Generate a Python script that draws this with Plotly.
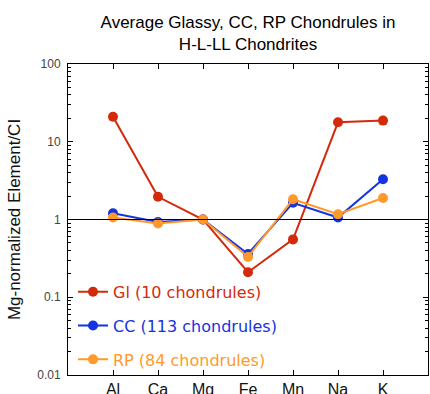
import plotly.graph_objects as go

elements = ["Al", "Ca", "Mg", "Fe", "Mn", "Na", "K"]
gl_vals = [21.0, 1.96, 1.0, 0.21, 0.555, 17.8, 18.7]
cc_vals = [1.2, 0.93, 1.0, 0.36, 1.64, 1.06, 3.3]
rp_vals = [1.06, 0.89, 1.0, 0.33, 1.82, 1.17, 1.89]
series_names = ["Gl (10 chondrules)", "CC (113 chondrules)", "RP (84 chondrules)"]
colors = ["#d42a0c", "#1533e0", "#ff9a2a"]
ytick_vals = [0.01, 0.1, 1, 10, 100]
ytick_text = ["0.01", "0.1", "1", "10", "100"]

xpos = list(range(1, len(elements) + 1))

fig = go.Figure()
for name, vals, col in zip(series_names, [gl_vals, cc_vals, rp_vals], colors):
    fig.add_trace(go.Scatter(
        x=xpos, y=vals, mode="lines+markers",
        name=f'<span style="color:{col}">{name}</span>',
        legendgroup=name,
        line=dict(color=col, width=2),
        marker=dict(color=col, size=10),
    ))

fig.add_hline(y=1, line=dict(color="black", width=1))

fig.update_layout(
    width=430, height=394,
    margin=dict(l=68, r=2, t=64, b=19, autoexpand=False),
    paper_bgcolor="white", plot_bgcolor="white",
    font=dict(family="Liberation Sans, Arial, sans-serif", color="#222222", size=13),
    title=dict(
        text="Average Glassy, CC, RP Chondrules in<br>H-L-LL Chondrites",
        x=0.5, xanchor="center",
        xref="paper", yref="container", y=1 - 28 / 394, yanchor="top",
        font=dict(size=17, color="#000000"),
    ),
    showlegend=True,
    legend=dict(
        x=5 / 360, y=0.322, xanchor="left", yanchor="top",
        bgcolor="rgba(0,0,0,0)", font=dict(size=16, family="DejaVu Sans, sans-serif"),
        tracegroupgap=10, traceorder="grouped",
        itemwidth=30,
    ),
    xaxis=dict(
        range=[0, 8], tickvals=xpos, ticktext=elements, automargin=False,
        ticks="inside", ticklen=5, tickcolor="black",
        showline=True, linecolor="black", linewidth=1, mirror="ticks",
        showgrid=False, zeroline=False, tickfont=dict(size=16, color="#111111"),
    ),
    yaxis=dict(
        type="log", range=[-2, 2], tickvals=ytick_vals, ticktext=ytick_text,
        automargin=False, ticklabelstandoff=4,
        ticks="inside", ticklen=5, tickcolor="black",
        showline=True, linecolor="black", linewidth=1, mirror="ticks",
        showgrid=False, zeroline=False,
        minor=dict(ticks="inside", ticklen=3, tickcolor="black", dtick="D1", showgrid=False),
        title=dict(text="Mg-normalized Element/CI", font=dict(size=17, color="#111111"), standoff=12),
        tickfont=dict(size=12, color="#444444"),
    ),
)

fig.write_html(
    "out.html",
    config={"displayModeBar": False},
    post_script="document.body.style.margin='0';document.body.style.overflow='hidden';",
)
